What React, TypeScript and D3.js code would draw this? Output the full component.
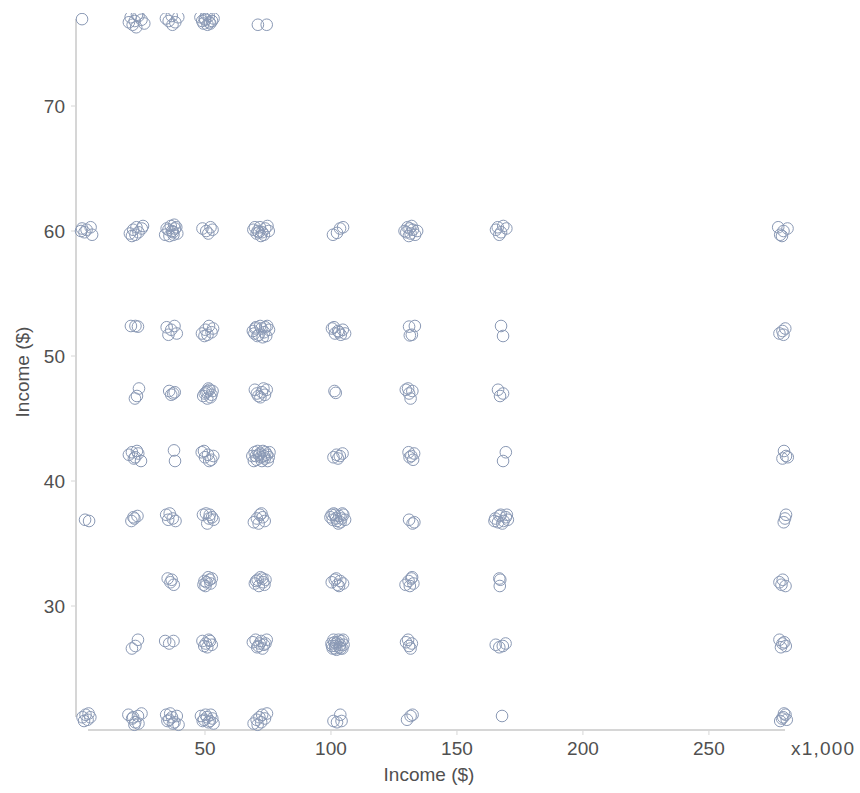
import React from "react";
import * as d3 from "d3";

// [income (x1,000), value] per row band
const row77: [number, number][] = [
  [1.2, 76.95],
  [20.5, 77.1], [22.1, 76.8], [23.6, 77.2], [21.3, 76.5], [24.8, 76.9], [22.7, 76.3], [19.8, 76.7], [25.9, 76.6], [23.0, 77.3],
  [34.5, 77.0], [36.8, 77.2], [38.2, 76.7], [37.1, 76.5], [39.4, 77.1], [35.6, 76.8],
  [48.2, 77.1], [50.1, 76.9], [51.5, 77.2], [52.8, 76.8], [49.4, 76.6], [51.0, 76.5], [53.4, 77.0], [50.6, 77.3], [48.9, 76.8], [52.1, 76.6], [49.9, 77.0], [51.8, 76.7],
  [71.0, 76.5], [74.5, 76.5],
];
const row60: [number, number][] = [
  [1.2, 60.2], [3.0, 60.1], [4.6, 60.3], [2.2, 59.9], [5.2, 59.7], [0.8, 60.0],
  [20.2, 59.8], [21.5, 60.1], [22.8, 60.3], [23.6, 59.9], [24.9, 60.2], [21.0, 59.6], [22.4, 59.7], [25.4, 60.4],
  [34.2, 59.7], [35.5, 60.1], [36.4, 60.4], [37.3, 59.9], [38.1, 60.2], [39.0, 59.8], [37.8, 60.5], [35.9, 59.6], [36.9, 60.0], [38.6, 60.3], [34.8, 60.2], [37.5, 59.7],
  [49.0, 60.2], [50.5, 60.0], [52.2, 60.3], [51.3, 59.8], [53.0, 60.1],
  [69.2, 60.1], [70.5, 59.8], [71.8, 60.3], [72.7, 59.9], [73.9, 60.2], [74.8, 60.4], [70.9, 60.0], [72.2, 59.6], [73.4, 59.7], [75.3, 60.0], [69.8, 60.3], [71.4, 59.9],
  [100.8, 59.7], [103.6, 60.2], [104.8, 60.3], [102.4, 59.85],
  [129.2, 60.0], [130.4, 60.3], [131.6, 59.8], [132.5, 60.1], [133.4, 59.7], [130.9, 59.6], [132.0, 60.4], [134.2, 60.0], [129.9, 59.9], [131.2, 60.2],
  [165.5, 60.1], [166.8, 59.7], [168.4, 60.4], [167.5, 59.9], [169.6, 60.2], [166.2, 60.3],
  [277.5, 60.3], [278.3, 59.7], [279.6, 60.0], [281.2, 60.2], [279.0, 59.6],
];
const row52: [number, number][] = [
  [20.6, 52.4], [22.4, 52.4], [23.4, 52.35],
  [34.8, 52.3], [36.6, 52.1], [37.9, 52.4], [35.5, 51.7], [38.8, 51.8],
  [48.8, 51.8], [50.2, 52.1], [51.6, 52.4], [52.6, 51.9], [49.8, 51.6], [53.2, 52.2], [51.0, 51.7],
  [69.0, 52.0], [70.2, 52.3], [71.3, 51.7], [72.4, 52.2], [73.5, 51.9], [74.7, 52.4], [70.8, 51.6], [72.9, 51.5], [75.4, 52.1], [69.6, 51.8], [71.9, 52.4], [73.9, 52.3], [74.3, 51.6], [70.0, 52.2],
  [100.4, 52.2], [101.6, 51.8], [102.8, 52.0], [103.9, 51.7], [104.7, 52.1], [101.2, 52.3], [103.2, 51.9], [105.6, 51.8],
  [131.0, 52.35], [133.3, 52.4], [131.3, 51.65], [132.1, 51.7],
  [167.5, 52.4], [168.3, 51.6],
  [278.0, 51.8], [279.2, 52.0], [280.3, 52.2], [279.6, 51.7],
];
const row47: [number, number][] = [
  [23.8, 47.4], [22.2, 46.6], [23.0, 46.8],
  [35.8, 47.2], [37.4, 47.0], [36.6, 46.9], [38.0, 47.1],
  [49.3, 46.8], [50.5, 47.1], [51.8, 47.3], [52.6, 46.9], [50.9, 46.6], [51.4, 47.4], [53.0, 47.2], [49.9, 47.0], [52.2, 46.7], [51.0, 47.2],
  [69.8, 47.3], [71.2, 46.8], [72.6, 47.1], [73.8, 46.9], [74.5, 47.3], [70.6, 47.0], [72.0, 46.7], [73.2, 47.4],
  [101.4, 47.2], [101.9, 47.05],
  [129.7, 47.3], [131.0, 47.0], [132.3, 47.2], [131.6, 46.6], [130.6, 47.4],
  [166.3, 47.3], [168.3, 47.0], [167.1, 46.8],
];
const row42: [number, number][] = [
  [19.8, 42.1], [21.0, 42.3], [22.3, 41.9], [23.5, 42.2], [24.6, 41.6], [21.8, 41.8], [23.0, 42.4],
  [37.7, 42.45], [38.1, 41.6],
  [48.7, 42.3], [50.0, 41.9], [51.2, 42.1], [52.5, 41.7], [53.3, 42.0], [49.6, 42.4], [51.7, 41.6],
  [68.8, 42.0], [69.7, 42.3], [70.5, 41.7], [71.4, 42.1], [72.2, 41.9], [73.0, 42.4], [73.8, 41.8], [74.6, 42.1], [75.3, 41.9], [69.4, 41.6], [70.9, 42.4], [72.6, 41.6], [74.0, 42.3], [75.6, 42.3], [71.8, 42.2], [70.2, 42.0], [73.4, 42.0], [74.9, 41.6],
  [101.0, 41.9], [102.2, 42.1], [103.5, 42.0], [104.6, 42.2], [102.8, 41.8],
  [130.8, 42.3], [131.9, 42.0], [132.6, 41.7], [131.2, 41.9], [133.0, 42.2],
  [169.4, 42.3], [168.3, 41.6],
  [279.8, 42.4], [280.6, 42.0], [279.2, 41.8], [281.3, 41.9],
];
const row37: [number, number][] = [
  [2.4, 36.9], [4.0, 36.8],
  [20.8, 36.8], [22.0, 37.0], [23.2, 37.2], [21.6, 37.1],
  [34.6, 37.3], [36.0, 37.4], [37.2, 37.0], [38.3, 36.8], [35.4, 36.9],
  [49.2, 37.3], [50.4, 37.4], [51.6, 37.0], [52.8, 37.1], [50.9, 36.6], [51.9, 37.3], [53.4, 36.9],
  [69.4, 36.7], [70.6, 37.0], [71.8, 37.3], [72.9, 37.1], [73.7, 36.8], [71.3, 36.6], [72.4, 37.4],
  [99.8, 37.1], [100.7, 36.9], [101.6, 37.3], [102.4, 36.8], [103.3, 37.2], [104.1, 37.0], [104.9, 37.3], [105.6, 36.9], [101.1, 37.4], [102.9, 36.6], [103.8, 36.7], [100.3, 37.3], [104.5, 37.4], [102.0, 37.0],
  [131.0, 36.9], [132.4, 36.6], [133.1, 36.7],
  [165.2, 37.0], [166.3, 36.7], [167.4, 37.3], [168.5, 36.8], [169.4, 37.1], [170.2, 36.9], [166.9, 37.2], [168.0, 36.6], [164.9, 36.8], [169.8, 37.3],
  [280.6, 37.3], [279.7, 36.7], [280.2, 37.0],
];
const row32: [number, number][] = [
  [35.2, 32.2], [36.8, 32.1], [37.6, 31.7], [36.3, 31.9],
  [49.4, 31.7], [50.6, 31.9], [51.8, 32.1], [52.7, 32.2], [50.2, 31.6], [51.3, 32.3], [52.2, 31.8], [49.8, 32.0],
  [69.8, 31.8], [70.9, 32.1], [72.0, 32.3], [73.1, 31.9], [74.0, 32.1], [71.4, 31.6], [72.8, 32.2], [70.3, 32.0], [73.6, 31.7],
  [100.3, 31.9], [101.5, 32.1], [102.6, 31.7], [103.7, 32.0], [104.8, 31.8], [102.1, 32.2], [103.2, 31.6],
  [129.6, 31.7], [130.8, 32.0], [131.9, 32.2], [132.7, 31.8], [131.3, 31.6], [132.2, 32.3],
  [166.8, 32.2], [167.2, 32.1], [167.0, 31.6],
  [278.0, 31.9], [279.3, 32.1], [280.4, 31.6], [278.8, 31.7],
];
const row27: [number, number][] = [
  [21.0, 26.6], [22.4, 26.8], [23.4, 27.3],
  [34.2, 27.2], [35.8, 27.0], [37.5, 27.2],
  [49.0, 27.2], [50.3, 27.0], [51.5, 27.3], [52.7, 26.9], [50.9, 26.7], [52.0, 27.2], [49.7, 26.8],
  [69.0, 27.1], [70.1, 27.3], [71.2, 26.8], [72.3, 27.2], [73.4, 26.9], [74.5, 27.3], [70.7, 26.7], [72.8, 26.6], [71.7, 27.0], [74.0, 27.0],
  [100.2, 27.0], [101.0, 27.3], [101.8, 26.8], [102.6, 27.1], [103.4, 26.7], [104.2, 27.2], [105.0, 26.9], [100.7, 26.6], [102.2, 26.5], [103.8, 26.6], [104.8, 27.3], [101.4, 27.1], [103.0, 27.3], [102.0, 27.0], [103.6, 26.9], [100.4, 26.8], [104.5, 26.6], [101.6, 26.6],
  [129.8, 27.1], [131.0, 26.8], [132.1, 27.0], [131.6, 26.6], [130.6, 27.3],
  [165.4, 26.9], [166.8, 26.7], [168.2, 26.8], [169.3, 27.0],
  [278.0, 27.3], [279.2, 27.0], [280.5, 26.8], [278.6, 26.7], [279.9, 27.1],
];
const row21: [number, number][] = [
  [1.4, 21.1], [2.6, 21.3], [3.4, 20.9], [4.5, 21.1], [2.0, 20.8], [3.8, 21.4],
  [19.6, 21.3], [21.1, 21.0], [22.3, 20.7], [23.4, 21.2], [24.8, 21.4], [22.0, 20.5], [23.6, 20.6], [21.5, 21.1],
  [34.6, 21.3], [35.8, 20.9], [36.9, 21.1], [37.9, 20.7], [38.8, 21.2], [36.2, 21.4], [39.5, 20.5], [37.3, 20.6], [35.1, 20.8],
  [48.4, 21.2], [49.6, 20.9], [50.8, 21.1], [51.9, 20.8], [52.9, 21.0], [50.2, 21.3], [51.4, 20.7], [53.4, 20.6], [49.1, 20.8], [52.3, 21.3],
  [69.3, 20.6], [70.5, 20.9], [71.6, 21.1], [72.7, 21.3], [73.8, 21.0], [70.9, 20.5], [72.3, 20.7], [74.6, 21.4],
  [101.0, 20.8], [102.4, 20.7], [103.7, 21.3], [104.2, 20.8],
  [130.2, 20.9], [131.6, 21.2], [132.4, 21.3],
  [167.9, 21.2],
  [278.3, 20.8], [279.5, 21.1], [280.4, 21.3], [279.0, 21.0], [280.9, 20.9], [279.8, 21.4],
];

const xTicks = [50, 100, 150, 200, 250];
const yTicks = [30, 40, 50, 60, 70];
const xUnitLabel = "x1,000";
const xTitle = "Income ($)";
const yTitle = "Income ($)";

const W = 860;
const H = 793;
const FONT = "'Liberation Sans', Arial, sans-serif";
const AXIS = "#d6d6d6";
const TXT = "#505050";
const DOT = "#8a99b5";

export default function App() {
  const points = [...row77, ...row60, ...row52, ...row47, ...row42, ...row37, ...row32, ...row27, ...row21];
  const x = d3.scaleLinear().domain([3.57, 280.2]).range([88, 785]);
  const y = d3.scaleLinear().domain([21.12, 76.96]).range([717, 19]);
  const axisY = 730;
  const axisX = 76;
  return (
    <svg width={W} height={H} style={{ position: "absolute", left: 0, top: 0 }} fontFamily={FONT}>
      <defs>
        <clipPath id="plotclip">
          <rect x={0} y={13} width={W} height={H} />
        </clipPath>
      </defs>
      <rect x={0} y={0} width={W} height={H} fill="#fff" />
      {/* y axis */}
      <line x1={axisX} x2={axisX} y1={y.range()[1]} y2={y.range()[0]} stroke={AXIS} strokeWidth={2} />
      {yTicks.map((t) => (
        <g key={"y" + t}>
          <line x1={axisX - 5} x2={axisX} y1={y(t)} y2={y(t)} stroke={AXIS} strokeWidth={1} />
          <text x={axisX - 11} y={y(t)} dy="0.35em" textAnchor="end" fontSize={19} fill={TXT}>{t}</text>
        </g>
      ))}
      {/* x axis */}
      <line x1={x.range()[0]} x2={x.range()[1]} y1={axisY} y2={axisY} stroke={AXIS} strokeWidth={2} />
      {xTicks.map((t) => (
        <g key={"x" + t}>
          <line x1={x(t)} x2={x(t)} y1={axisY} y2={axisY + 5} stroke={AXIS} strokeWidth={1} />
          <text x={x(t)} y={axisY + 18} dy="0.35em" textAnchor="middle" fontSize={19} fill={TXT}>{t}</text>
        </g>
      ))}
      <text x={791} y={axisY + 18} dy="0.35em" textAnchor="start" fontSize={19} fill={TXT} textLength={63}>{xUnitLabel}</text>
      <text x={429} y={774} dy="0.35em" textAnchor="middle" fontSize={19} fill={TXT}>{xTitle}</text>
      <text transform={`translate(22,372) rotate(-90)`} dy="0.35em" textAnchor="middle" fontSize={19} fill={TXT}>{yTitle}</text>
      <g clipPath="url(#plotclip)">
        {points.map((p, i) => (
          <circle key={i} cx={x(p[0])} cy={y(p[1])} r={5.8} fill="none" stroke={DOT} strokeWidth={1} />
        ))}
      </g>
    </svg>
  );
}
